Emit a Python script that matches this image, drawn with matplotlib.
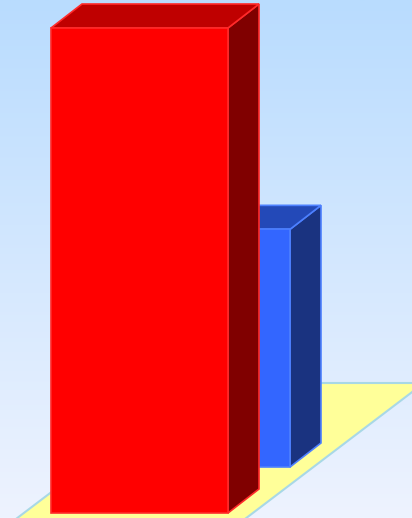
import numpy as np
import matplotlib.pyplot as plt
from matplotlib.patches import Polygon

# data: one category, two depth series
series = ['Series 1', 'Series 2']
values = [100, 49]
front_colors = ['#ff0000', '#3366ff']
top_colors = ['#bf0000', '#2349b8']
side_colors = ['#800000', '#1a3380']
edge_colors = ['#ff2a2a', '#4d80ff']

# layout (pixel space)
W, H = 412, 518
bar_left = 51
bar_width = 177
base_y = 513
px_per_unit = 4.85
depth = np.array([31, -24])       # bar thickness offset
row_shift = np.array([62, -46])   # offset between depth rows

fig = plt.figure(figsize=(W / 100, H / 100), dpi=100)
ax = fig.add_axes([0, 0, 1, 1])
ax.set_xlim(0, W)
ax.set_ylim(H, 0)
ax.axis('off')

# background gradient
grad = np.linspace(0, 1, 256).reshape(-1, 1)
top_c = np.array([185, 220, 254]) / 255
bot_c = np.array([238, 243, 255]) / 255
img = top_c + (bot_c - top_c) * grad[..., None]
ax.imshow(img, extent=[0, W, H, 0], aspect='auto', zorder=0)

# floor
floor_back_left = np.array([195, 383])
floor_back_right = np.array([424, 383])
floor_dir = np.array([-233, 177])
floor = [floor_back_left, floor_back_right, floor_back_right + floor_dir, floor_back_left + floor_dir]
ax.add_patch(Polygon(floor, closed=True, facecolor='#ffff99', edgecolor='#a8d8e6', lw=1.5, zorder=1))


def draw_bar(i):
    off = row_shift * i
    x0 = bar_left + off[0]
    x1 = x0 + bar_width
    yb = base_y + off[1]
    yt = yb - values[i] * px_per_unit
    dx, dy = depth
    z = 10 - i
    front = [(x0, yb), (x1, yb), (x1, yt), (x0, yt)]
    top = [(x0, yt), (x1, yt), (x1 + dx, yt + dy), (x0 + dx, yt + dy)]
    side = [(x1, yb), (x1 + dx, yb + dy), (x1 + dx, yt + dy), (x1, yt)]
    for poly, fc in [(side, side_colors[i]), (top, top_colors[i]), (front, front_colors[i])]:
        ax.add_patch(Polygon(poly, closed=True, facecolor=fc, edgecolor=edge_colors[i],
                             lw=1.2, joinstyle='miter', zorder=z))


for i in reversed(range(len(values))):
    draw_bar(i)

fig.savefig('out.png', dpi=100)
